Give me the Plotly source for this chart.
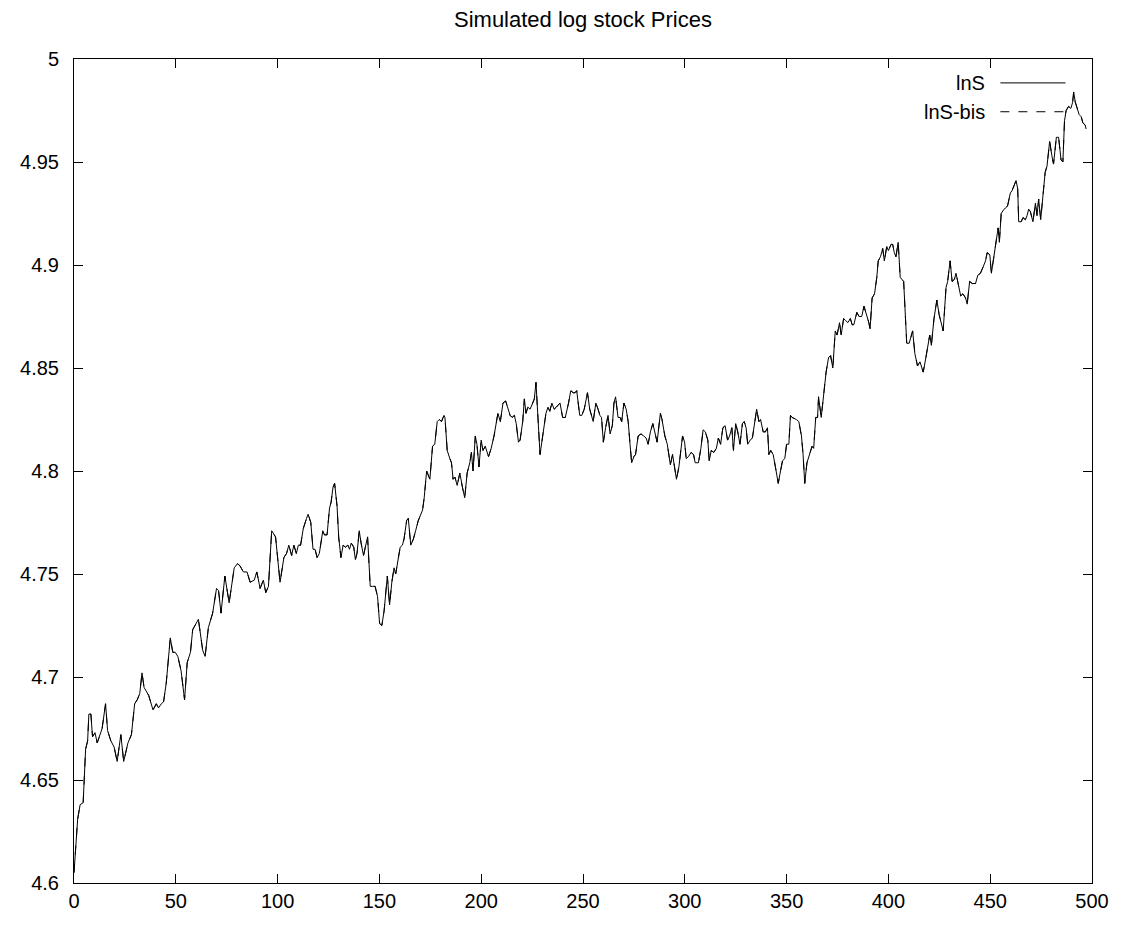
import plotly.graph_objects as go

title = "Simulated log stock Prices"
series_names = ["lnS", "lnS-bis"]

# points (time step, log price)
t = [0, 1.8, 3.0, 4.5, 5.7, 6.7, 7.3, 8.3, 9.1, 10.3, 11.4, 13.8, 15.5, 16.5, 18.1, 19.7,
     21.2, 23.0, 24.4, 26.5, 28.2, 29.8, 31.1, 32.3, 33.4, 34.4, 36.7, 38.8, 40.4, 41.5,
     42.9, 44.0, 45.3, 47.3, 48.5, 49.7, 51.0, 52.6, 54.3, 55.6, 57.2, 58.3, 61.1, 63.2,
     64.4, 66.0, 68.1, 70.0, 71.0, 72.2, 74.1, 76.2, 78.7, 80.3, 81.5, 83.2, 85.0, 86.5,
     88.5, 89.8, 91.4, 93.0, 94.2, 95.5, 97.1, 99.0, 101.2, 103.1, 104.4, 105.5, 106.9,
     108.0, 109.2, 110.2, 111.3, 112.6, 114.2, 115.0, 116.3, 117.4, 118.4, 119.4, 120.5,
     122.2, 123.0, 124.3, 125.5, 126.3, 127.2, 128.0, 129.2, 130.0, 131.1, 132.2, 133.3,
     134.5, 135.3, 136.2, 137.4, 138.2, 139.0, 140.1, 141.0, 142.2, 144.2, 145.5, 146.6,
     147.9, 149.1, 150.1, 151.2, 152.3, 153.9, 155.0, 156.1, 157.2, 158.0, 160.2, 161.3,
     162.1, 163.4, 164.2, 165.4, 166.7, 167.8, 169.1, 171.2, 172.0, 173.2, 174.8, 176.1,
     177.2, 178.4, 179.4, 180.5, 181.7, 182.2, 183.3, 184.6, 185.4, 186.2, 187.1, 188.2,
     189.5, 190.8, 191.9, 193.1, 194.4, 195.2, 196.0, 197.1, 197.9, 198.9, 200.0, 200.9,
     202.0, 203.6, 204.9, 206.3, 207.4, 208.2, 209.4, 210.7, 212.0, 213.1, 214.2, 215.2,
     216.3, 217.2, 218.3, 219.1, 220.4, 221.2, 222.0, 222.9, 224.0, 225.3, 226.1, 226.9,
     227.7, 228.9, 230.2, 231.8, 232.8, 233.7, 234.7, 235.8, 236.9, 238.7, 240.0, 241.3,
     242.9, 244.0, 245.2, 246.1, 246.9, 248.4, 249.4, 250.6, 252.2, 253.3, 255.0, 256.3,
     257.4, 258.3, 259.1, 260.0, 261.1, 262.3, 263.3, 264.4, 265.2, 266.0, 267.2, 268.2,
     269.0, 270.1, 271.2, 272.2, 273.1, 273.9, 275.0, 275.8, 277.1, 278.5, 279.8, 281.0,
     282.0, 283.1, 284.3, 285.3, 286.4, 288.0, 288.8, 290.2, 291.4, 292.9, 294.0, 295.9,
     297.1, 298.9, 299.9, 300.7, 301.8, 303.1, 304.3, 305.1, 306.7, 307.9, 309.0, 310.1,
     311.3, 312.0, 313.0, 314.2, 315.5, 316.5, 317.6, 318.7, 319.8, 321.0, 322.0, 323.1,
     323.9, 325.0, 326.0, 327.1, 328.3, 329.2, 330.1, 330.9, 332.1, 333.2, 334.2, 335.3,
     336.4, 337.2, 338.5, 339.6, 340.6, 341.3, 342.2, 343.4, 344.5, 345.9, 347.0, 348.0,
     349.1, 350.0, 351.1, 351.9, 352.7, 354.8, 356.0, 357.3, 358.1, 358.9, 360.0, 361.4,
     362.5, 363.3, 364.3, 365.2, 365.7, 367.0, 368.3, 369.4, 370.6, 371.6, 372.7, 373.9,
     374.8, 376.0, 376.8, 378.0, 379.0, 380.1, 381.3, 382.2, 383.0, 384.5, 385.6, 386.9,
     388.0, 389.3, 390.4, 391.0, 392.0, 393.2, 394.3, 395.0, 396.1, 397.2, 398.0, 399.2,
     400.0, 401.3, 402.1, 402.9, 403.7, 404.8, 405.3, 405.8, 407.5, 408.2, 409.0, 410.2,
     411.9, 413.0, 414.3, 415.5, 416.3, 417.1, 418.4, 420.3, 421.1, 422.4, 423.8, 424.9,
     426.9, 428.3, 429.1, 430.3, 431.3, 432.4, 433.2, 434.4, 435.5, 436.6, 437.9, 438.7,
     439.9, 441.2, 442.8, 443.9, 445.2, 446.5, 447.7, 448.5, 449.8, 450.6, 451.8, 452.9,
     453.9, 454.5, 455.4, 456.7, 458.0, 458.6, 459.9, 460.7, 461.5, 462.7, 463.5, 464.0,
     465.2, 466.1, 467.3, 468.1, 468.9, 469.7, 471.0, 472.2, 473.0, 473.8, 474.8, 475.9,
     477.0, 477.9, 479.2, 480.3, 481.1, 482.5, 483.6, 484.8, 485.7, 486.5, 487.3, 488.5,
     489.6, 490.5, 491.0, 491.8, 492.6, 493.7, 494.7, 495.5, 496.6, 497.1]

lnS = [4.605, 4.631, 4.638, 4.639, 4.665, 4.669, 4.682, 4.682, 4.671, 4.673, 4.668, 4.675,
       4.687, 4.674, 4.669, 4.666, 4.659, 4.672, 4.659, 4.668, 4.672, 4.687, 4.689, 4.692,
       4.702, 4.695, 4.691, 4.684, 4.687, 4.685, 4.687, 4.688, 4.697, 4.719, 4.712, 4.712,
       4.710, 4.703, 4.689, 4.707, 4.712, 4.723, 4.728, 4.713, 4.710, 4.724, 4.731, 4.743,
       4.742, 4.731, 4.749, 4.736, 4.753, 4.755, 4.754, 4.751, 4.751, 4.746, 4.747, 4.751,
       4.743, 4.747, 4.741, 4.744, 4.771, 4.768, 4.746, 4.758, 4.760, 4.764, 4.759, 4.764,
       4.760, 4.764, 4.764, 4.772, 4.777, 4.779, 4.775, 4.762, 4.762, 4.758, 4.760, 4.771,
       4.769, 4.769, 4.782, 4.785, 4.792, 4.794, 4.783, 4.768, 4.758, 4.764, 4.763, 4.764,
       4.762, 4.765, 4.763, 4.757, 4.760, 4.771, 4.765, 4.759, 4.768, 4.744, 4.744, 4.744,
       4.739, 4.726, 4.725, 4.732, 4.749, 4.735, 4.746, 4.753, 4.750, 4.763, 4.764, 4.767,
       4.776, 4.777, 4.764, 4.767, 4.771, 4.776, 4.781, 4.787, 4.800, 4.796, 4.812, 4.813,
       4.824, 4.825, 4.824, 4.827, 4.826, 4.810, 4.806, 4.804, 4.796, 4.797, 4.793, 4.799,
       4.792, 4.787, 4.799, 4.804, 4.809, 4.800, 4.817, 4.813, 4.802, 4.815, 4.810, 4.812,
       4.807, 4.811, 4.817, 4.824, 4.828, 4.824, 4.833, 4.834, 4.831, 4.827, 4.826, 4.827,
       4.823, 4.814, 4.815, 4.824, 4.835, 4.828, 4.831, 4.830, 4.833, 4.835, 4.843, 4.831,
       4.808, 4.817, 4.828, 4.831, 4.829, 4.833, 4.830, 4.831, 4.833, 4.826, 4.826, 4.833,
       4.839, 4.838, 4.838, 4.839, 4.827, 4.827, 4.830, 4.838, 4.830, 4.824, 4.833, 4.830,
       4.827, 4.826, 4.814, 4.821, 4.827, 4.818, 4.822, 4.833, 4.836, 4.826, 4.826, 4.824,
       4.833, 4.830, 4.824, 4.813, 4.804, 4.807, 4.808, 4.817, 4.818, 4.817, 4.816, 4.813,
       4.819, 4.823, 4.818, 4.814, 4.828, 4.825, 4.817, 4.813, 4.803, 4.808, 4.796, 4.802,
       4.817, 4.814, 4.806, 4.807, 4.809, 4.808, 4.804, 4.804, 4.811, 4.820, 4.819, 4.815,
       4.805, 4.810, 4.809, 4.811, 4.816, 4.813, 4.821, 4.822, 4.815, 4.817, 4.821, 4.810,
       4.823, 4.819, 4.813, 4.823, 4.824, 4.821, 4.813, 4.815, 4.816, 4.823, 4.830, 4.824,
       4.825, 4.819, 4.819, 4.821, 4.808, 4.810, 4.808, 4.802, 4.794, 4.800, 4.805, 4.806,
       4.813, 4.813, 4.827, 4.826, 4.825, 4.824, 4.817, 4.808, 4.794, 4.804, 4.808, 4.812,
       4.811, 4.826, 4.826, 4.836, 4.826, 4.838, 4.848, 4.855, 4.856, 4.850, 4.868, 4.866,
       4.872, 4.866, 4.874, 4.873, 4.872, 4.874, 4.871, 4.871, 4.877, 4.875, 4.875, 4.880,
       4.876, 4.872, 4.869, 4.884, 4.886, 4.894, 4.902, 4.904, 4.908, 4.902, 4.909, 4.907,
       4.910, 4.910, 4.906, 4.904, 4.911, 4.904, 4.894, 4.892, 4.878, 4.862, 4.862, 4.868,
       4.857, 4.851, 4.853, 4.850, 4.848, 4.855, 4.866, 4.861, 4.874, 4.883, 4.876, 4.868,
       4.889, 4.892, 4.902, 4.892, 4.893, 4.896, 4.891, 4.885, 4.886, 4.884, 4.881, 4.892,
       4.891, 4.891, 4.895, 4.896, 4.899, 4.902, 4.906, 4.905, 4.896, 4.904, 4.911, 4.918,
       4.911, 4.925, 4.927, 4.928, 4.929, 4.935, 4.936, 4.938, 4.941, 4.937, 4.921, 4.921,
       4.923, 4.922, 4.924, 4.927, 4.926, 4.921, 4.930, 4.924, 4.932, 4.922, 4.935, 4.945,
       4.948, 4.960, 4.953, 4.949, 4.962, 4.962, 4.951, 4.950, 4.970, 4.975, 4.977, 4.976,
       4.979, 4.984, 4.979, 4.976, 4.973, 4.972, 4.969, 4.968, 4.966]

lnS_bis = list(lnS)

x_ticks = [0, 50, 100, 150, 200, 250, 300, 350, 400, 450, 500]
y_ticks = [4.6, 4.65, 4.7, 4.75, 4.8, 4.85, 4.9, 4.95, 5.0]
y_labels = ["4.6", "4.65", "4.7", "4.75", "4.8", "4.85", "4.9", "4.95", "5"]

fig = go.Figure()
fig.add_trace(go.Scatter(x=t, y=lnS, mode="lines", name=series_names[0],
                         line=dict(color="black", width=1)))
fig.add_trace(go.Scatter(x=t, y=lnS_bis, mode="lines", name=series_names[1],
                         line=dict(color="black", width=1, dash="dash")))

# gnuplot style key: label on the left, line sample on the right
fig.add_annotation(x=0.897, y=0.971, xref="paper", yref="paper", text=series_names[0],
                   showarrow=False, xanchor="right", yanchor="middle",
                   font=dict(size=20, color="black"))
fig.add_annotation(x=0.897, y=0.936, xref="paper", yref="paper", text=series_names[1],
                   showarrow=False, xanchor="right", yanchor="middle",
                   font=dict(size=20, color="black"))
fig.add_shape(type="line", xref="paper", yref="paper", x0=0.910, x1=0.974, y0=0.971, y1=0.971,
              line=dict(color="black", width=1))
fig.add_shape(type="line", xref="paper", yref="paper", x0=0.910, x1=0.974, y0=0.936, y1=0.936,
              line=dict(color="black", width=1, dash="dash"))

# the page body adds an 8px offset, margins are set to compensate
fig.update_layout(
    width=1122, height=928,
    margin=dict(l=61, r=38, t=51, b=53),
    paper_bgcolor="white", plot_bgcolor="white",
    showlegend=False,
    font=dict(family="Liberation Sans, Arial, sans-serif", size=20, color="black"),
    title=dict(text=title, xref="paper", x=0.5, xanchor="center", y=0.988, yanchor="middle",
               font=dict(size=22)),
)
fig.update_xaxes(range=[0, 500], tickvals=x_ticks, showgrid=False, zeroline=False,
                 showline=True, linecolor="black", linewidth=1, mirror="ticks",
                 ticks="inside", ticklen=9, tickcolor="black")
fig.update_yaxes(range=[4.6, 5.0], tickvals=y_ticks, ticktext=y_labels, showgrid=False,
                 zeroline=False, showline=True, linecolor="black", linewidth=1,
                 mirror="ticks", ticks="inside", ticklen=9, tickcolor="black",
                 ticklabelstandoff=10)

fig.write_html("out.html")
